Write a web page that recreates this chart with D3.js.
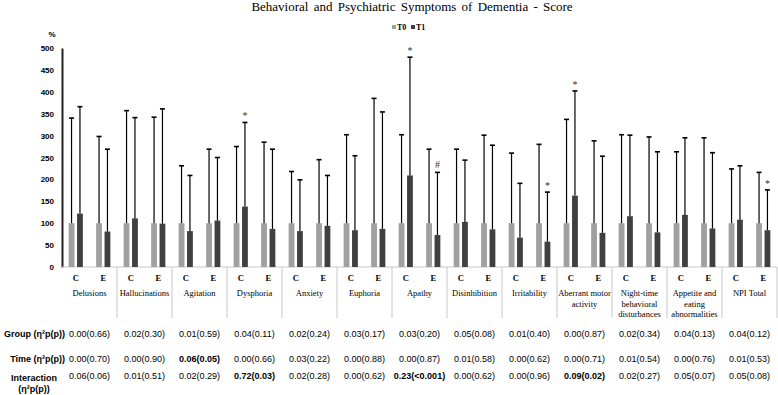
<!DOCTYPE html>
<html>
<head>
<meta charset="utf-8">
<script src="https://cdn.jsdelivr.net/npm/d3@7"></script>
<style>
  body { margin: 0; background: #fff; }
  svg { display: block; }
</style>
</head>
<body>
<svg id="area" width="778" height="395"></svg>
<script>
// symptom domains, each split into C and E groups
const categories = ['Delusions', 'Hallucinations', 'Agitation', 'Dysphoria', 'Anxiety', 'Euphoria', 'Apathy',
  'Disinhibition', 'Irritability', 'Aberrant motor activity', 'Night-time behavioral disturbances',
  'Appetite and eating abnormalities', 'NPI Total'];
const categoryLines = [['Delusions'], ['Hallucinations'], ['Agitation'], ['Dysphoria'], ['Anxiety'], ['Euphoria'],
  ['Apathy'], ['Disinhibition'], ['Irritability'], ['Aberrant motor', 'activity'],
  ['Night-time', 'behavioral', 'disturbances'], ['Appetite and', 'eating', 'abnormalities'], ['NPI Total']];
const groups = ['C', 'E'];
const times = ['T0', 'T1'];

// values in order C, E for each category (%)
const t0Mean = [100, 100, 100, 100, 100, 100, 100, 100, 100, 100, 100, 100, 100,
  100, 100, 100, 100, 100, 100, 100, 100, 100, 100, 100, 100, 100];
const t0Sd = [240, 198, 257, 242, 131, 169, 175, 185, 118, 145, 202, 285, 202,
  169, 169, 201, 160, 180, 237, 188, 202, 197, 163, 195, 124, 116];
const t1Mean = [122, 81, 111, 99, 82, 106, 138, 87, 82, 94, 84, 87, 209,
  73, 103, 86, 67, 58, 163, 78, 116, 79, 119, 88, 108, 84];
const t1Sd = [244, 188, 230, 262, 127, 144, 192, 182, 117, 115, 170, 267, 270,
  143, 141, 192, 124, 113, 239, 175, 185, 184, 176, 173, 123, 92];
// significance marks on T1 bars
const t1Marks = ['', '', '', '', '', '', '*', '', '', '', '', '', '*',
  '#', '', '', '', '*', '*', '', '', '', '', '', '', '*'];

const yTicks = [0, 50, 100, 150, 200, 250, 300, 350, 400, 450, 500];

// stats table
const rowLabels = [['Group (η²p(p))'], ['Time (η²p(p))'], ['Interaction', '(η²p(p))']];
const groupStats = ['0.00(0.66)', '0.02(0.30)', '0.01(0.59)', '0.04(0.11)', '0.02(0.24)', '0.03(0.17)', '0.03(0.20)',
  '0.05(0.08)', '0.01(0.40)', '0.00(0.87)', '0.02(0.34)', '0.04(0.13)', '0.04(0.12)'];
const timeStats = ['0.00(0.70)', '0.00(0.90)', '0.06(0.05)', '0.00(0.66)', '0.03(0.22)', '0.00(0.88)', '0.00(0.87)',
  '0.01(0.58)', '0.00(0.62)', '0.00(0.71)', '0.01(0.54)', '0.00(0.76)', '0.01(0.53)'];
const interactionStats = ['0.06(0.06)', '0.01(0.51)', '0.02(0.29)', '0.72(0.03)', '0.02(0.28)', '0.00(0.62)',
  '0.23(<0.001)', '0.00(0.62)', '0.00(0.96)', '0.09(0.02)', '0.02(0.27)', '0.05(0.07)', '0.05(0.08)'];
const boldStats = ['0.06(0.05)', '0.72(0.03)', '0.23(<0.001)', '0.09(0.02)'];

const colors = { T0: '#a0a0a0', T1: '#404040' };
const serif = '"Liberation Serif", "Times New Roman", serif';
const sans = '"Liberation Sans", Arial, sans-serif';

const svg = d3.select('#area');

const x0 = d3.scaleBand().domain(categories).range([62, 777]);
const x1 = d3.scaleBand().domain(groups).range([0, x0.bandwidth()]);
const x2 = d3.scaleBand().domain(times).range([0, x1.bandwidth()])
  .paddingInner(0.31)
  .paddingOuter(0.79);
const y = d3.scaleLinear().domain([0, 500]).range([267, 48]);

// flatten
const bars = [];
categories.forEach((c, i) => {
  groups.forEach((g, j) => {
    const k = i * 2 + j;
    bars.push({ cat: c, grp: g, time: 'T0', mean: t0Mean[k], sd: t0Sd[k], mark: '' });
    bars.push({ cat: c, grp: g, time: 'T1', mean: t1Mean[k], sd: t1Sd[k], mark: t1Marks[k] });
  });
});
const barX = (d) => x0(d.cat) + x1(d.grp) + x2(d.time);
const barMid = (d) => barX(d) + x2.bandwidth() / 2;

// title + legend
svg.append('text')
  .attr('x', 412)
  .attr('y', 11)
  .attr('text-anchor', 'middle')
  .style('font-family', serif)
  .style('font-size', '13px')
  .style('word-spacing', '2px')
  .text('Behavioral and Psychiatric Symptoms of Dementia - Score');

const legend = svg.append('g').attr('transform', 'translate(392, 30)');
times.forEach((t, i) => {
  legend.append('rect')
    .attr('x', i * 19)
    .attr('y', -5)
    .attr('width', 4)
    .attr('height', 4)
    .attr('fill', colors[t]);
  legend.append('text')
    .attr('x', i * 19 + 5)
    .attr('y', 0)
    .style('font-family', serif)
    .style('font-size', '8px')
    .style('font-weight', 'bold')
    .text(t);
});

// y axis
const yAxis = d3.axisLeft(y).tickValues(yTicks).tickSize(0).tickPadding(8);
const gy = svg.append('g')
  .attr('transform', 'translate(62, 0)')
  .call(yAxis);
gy.select('.domain').attr('stroke', '#222').attr('stroke-width', 2);
gy.selectAll('text')
  .style('font-family', sans)
  .style('font-size', '8px')
  .style('font-weight', 'bold')
  .attr('fill', '#000');

svg.append('text')
  .attr('x', 52)
  .attr('y', 37)
  .attr('text-anchor', 'middle')
  .style('font-family', sans)
  .style('font-size', '8px')
  .style('font-weight', 'bold')
  .text('%');

// baseline + category separators
svg.append('line')
  .attr('x1', x0.range()[0])
  .attr('x2', x0.range()[1])
  .attr('y1', y(0))
  .attr('y2', y(0))
  .attr('stroke', '#c8c8c8');
svg.selectAll('line.sep')
  .data(categories.slice(1).map((c) => x0(c)).concat([x0.range()[1]]))
  .enter()
  .append('line')
  .attr('class', 'sep')
  .attr('x1', (d) => d)
  .attr('x2', (d) => d)
  .attr('y1', y(0))
  .attr('y2', 318)
  .attr('stroke', '#c8c8c8');

// bars
svg.selectAll('rect.bar')
  .data(bars)
  .enter()
  .append('rect')
  .attr('class', 'bar')
  .attr('x', barX)
  .attr('y', (d) => y(d.mean))
  .attr('width', x2.bandwidth())
  .attr('height', (d) => y(0) - y(d.mean))
  .attr('fill', (d) => colors[d.time]);

// error bars (upper only)
const err = svg.append('g');
err.selectAll('line.stem')
  .data(bars)
  .enter()
  .append('line')
  .attr('x1', barMid)
  .attr('x2', barMid)
  .attr('y1', (d) => y(d.mean))
  .attr('y2', (d) => y(d.mean + d.sd))
  .attr('stroke', '#000')
  .attr('stroke-width', 1.2);
err.selectAll('line.cap')
  .data(bars)
  .enter()
  .append('line')
  .attr('x1', (d) => barMid(d) - 2.5)
  .attr('x2', (d) => barMid(d) + 2.5)
  .attr('y1', (d) => y(d.mean + d.sd))
  .attr('y2', (d) => y(d.mean + d.sd))
  .attr('stroke', '#000')
  .attr('stroke-width', 1.6);

svg.selectAll('text.mark')
  .data(bars.filter((d) => d.mark))
  .enter()
  .append('text')
  .attr('x', barMid)
  .attr('y', (d) => y(d.mean + d.sd) - (d.mark === '#' ? 4 : 3))
  .attr('text-anchor', 'middle')
  .style('font-family', serif)
  .style('font-size', '10px')
  .attr('fill', '#333')
  .text((d) => d.mark);

// C / E labels and category names
categories.forEach((c, i) => {
  groups.forEach((g) => {
    svg.append('text')
      .attr('x', x0(c) + x1(g) + x1.bandwidth() / 2)
      .attr('y', 281)
      .attr('text-anchor', 'middle')
      .style('font-family', serif)
      .style('font-size', '8.5px')
      .style('font-weight', 'bold')
      .text(g);
  });
  const t = svg.append('text')
    .attr('x', x0(c) + x0.bandwidth() / 2)
    .attr('y', 296)
    .attr('text-anchor', 'middle')
    .style('font-family', serif)
    .style('font-size', '8.5px');
  categoryLines[i].forEach((line, li) => {
    t.append('tspan')
      .attr('x', x0(c) + x0.bandwidth() / 2)
      .attr('dy', li === 0 ? 0 : 10.5)
      .text(line);
  });
});

// stats table
const tableRows = [groupStats, timeStats, interactionStats];
const rowY = [337, 362, 379];
tableRows.forEach((row, r) => {
  svg.selectAll(null)
    .data(row)
    .enter()
    .append('text')
    .attr('x', (d, i) => x0(categories[i]) + x0.bandwidth() / 2)
    .attr('y', rowY[r])
    .attr('text-anchor', 'middle')
    .style('font-family', sans)
    .style('font-size', '9px')
    .style('font-weight', (d) => (boldStats.includes(d) ? 'bold' : 'normal'))
    .text((d) => d);
});

rowLabels.forEach((lines, r) => {
  if (lines.length === 1) {
    svg.append('text')
      .attr('x', 65)
      .attr('y', rowY[r])
      .attr('text-anchor', 'end')
      .style('font-family', sans)
      .style('font-size', '9px')
      .style('font-weight', 'bold')
      .text(lines[0]);
  } else {
    lines.forEach((line, li) => {
      svg.append('text')
        .attr('x', 34)
        .attr('y', 381 + li * 10.5)
        .attr('text-anchor', 'middle')
        .style('font-family', sans)
        .style('font-size', '9px')
        .style('font-weight', 'bold')
        .text(line);
    });
  }
});
</script>
</body>
</html>
